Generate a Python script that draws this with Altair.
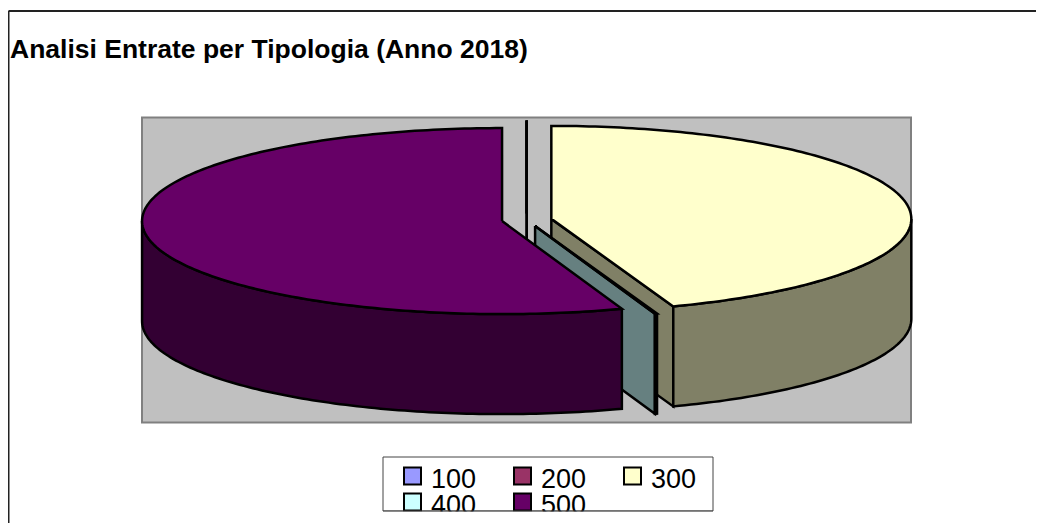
import math
import altair as alt
import pandas as pd

# data
categories = ["100", "200", "300", "400", "500"]
shares = [0.0, 0.0, 44.5, 0.1, 55.4]
top_colors = ["#9999FF", "#993366", "#FFFFCC", "#CCFFFF", "#660066"]
side_colors = ["#4D4D80", "#4D1A33", "#808066", "#668080", "#330033"]
title_text = "Analisi Entrate per Tipologia (Anno 2018)"

# layout (page pixels)
W, H = 1028, 515
CX, CY = 526.7, 220.0
RX, RY = 360.0, 93.0
DEPTH = 100.0
EXPLODE = 25.0
LINE = 2.5

x_scale = alt.Scale(domain=[8, 8 + W], nice=False, zero=False)
y_scale = alt.Scale(domain=[8, 8 + H], nice=False, zero=False, reverse=True)
X = alt.X("x:Q", scale=x_scale, axis=None)
Y = alt.Y("y:Q", scale=y_scale, axis=None)


def ell(ax, ay, deg, drop=0.0):
    t = math.radians(deg)
    return ax + RX * math.sin(t), ay - RY * math.cos(t) + drop


def arc(ax, ay, a0, a1, drop=0.0):
    n = max(1, int(abs(a1 - a0)))
    return [ell(ax, ay, a0 + (a1 - a0) * k / n, drop) for k in range(n + 1)]


def poly(points, fill):
    pts = list(points) + [points[0]]
    df = pd.DataFrame({"x": [p[0] for p in pts], "y": [p[1] for p in pts], "i": range(len(pts))})
    return alt.Chart(df).mark_line(
        fill=fill, stroke="black", strokeWidth=LINE, strokeJoin="miter", clip=False
    ).encode(x=X, y=Y, order="i:Q")


layers = []


def rect(x0, x1, y0, y1, fill, stroke=None, sw=0):
    df = pd.DataFrame({"x": [x0], "x2": [x1], "y": [y0], "y2": [y1]})
    kw = {"stroke": stroke, "strokeWidth": sw} if stroke else {"strokeWidth": 0}
    return alt.Chart(df).mark_rect(fill=fill, **kw).encode(
        x=X, x2="x2:Q", y=Y, y2="y2:Q"
    )


# plot background
layers.append(rect(142, 911, 117.5, 422.5, "#C0C0C0", "#808080", 2))

# exploded 3D pie: geometry follows from the shares
total = sum(shares)
start = 0.0
for s, top, side in zip(shares, top_colors, side_colors):
    end = start + 360.0 * s / total
    mid = math.radians((start + end) / 2)
    ax = CX + EXPLODE * math.sin(mid)
    ay = CY - EXPLODE * RY / RX * math.cos(mid)
    # cut wall at the end angle
    if end < 180:
        ex, ey = ell(ax, ay, end)
        layers.append(poly([(ax, ay), (ex, ey), (ex, ey + DEPTH), (ax, ay + DEPTH)], side))
    # outer wall on the front half
    f0, f1 = max(start, 90.0), min(end, 270.0)
    if f1 > f0:
        layers.append(poly(arc(ax, ay, f0, f1) + arc(ax, ay, f1, f0, DEPTH), side))
    # top face
    layers.append(poly([(ax, ay)] + arc(ax, ay, start, end), top))
    start = end

# legend
layers.append(rect(383, 713, 457, 511, "white", "#444444", 1))
leg = pd.DataFrame({
    "label": categories,
    "fill": top_colors,
    "x": [412.5 + 110 * (i % 3) for i in range(5)],
    "y": [476 + 26 * (i // 3) for i in range(5)],
})
leg["tx"] = leg["x"] + 18.5
leg["ty"] = leg["y"] + 12
layers.append(
    alt.Chart(leg).mark_square(size=289, stroke="black", strokeWidth=2, opacity=1).encode(
        x=X, y=Y, fill=alt.Fill("fill:N", scale=None)
    )
)
layers.append(
    alt.Chart(leg).mark_text(font="Liberation Sans", fontSize=27, align="left", baseline="alphabetic", color="black").encode(
        x=alt.X("tx:Q", scale=x_scale, axis=None), y=alt.Y("ty:Q", scale=y_scale, axis=None), text="label:N"
    )
)
# the legend box cuts off its second row
layers.append(rect(375, 780, 511.5, 8 + H, "white"))
rule = pd.DataFrame({"x": [383], "x2": [713], "y": [511], "y2": [511]})
layers.append(alt.Chart(rule).mark_rule(color="#444444", strokeWidth=1).encode(x=X, x2="x2:Q", y=Y))

# chart frame
fr = pd.DataFrame({"x": [8.5, 8.5], "x2": [8.5, 8 + W], "y": [11, 11], "y2": [8 + H, 11]})
layers.append(alt.Chart(fr).mark_rule(color="#222222", strokeWidth=2).encode(x=X, x2="x2:Q", y=Y, y2="y2:Q"))

# title
tt = pd.DataFrame({"x": [10], "y": [58], "t": [title_text]})
layers.append(
    alt.Chart(tt).mark_text(font="Liberation Sans", fontWeight="bold", fontSize=26.5, align="left", baseline="alphabetic", color="black").encode(
        x=X, y=Y, text="t:N"
    )
)

chart = alt.layer(*layers).properties(
    width=W, height=H, padding=0, autosize=alt.AutoSizeParams(type="none")
).configure_view(stroke=None)

chart.save("out.html", embed_options={"renderer": "svg", "actions": False})
